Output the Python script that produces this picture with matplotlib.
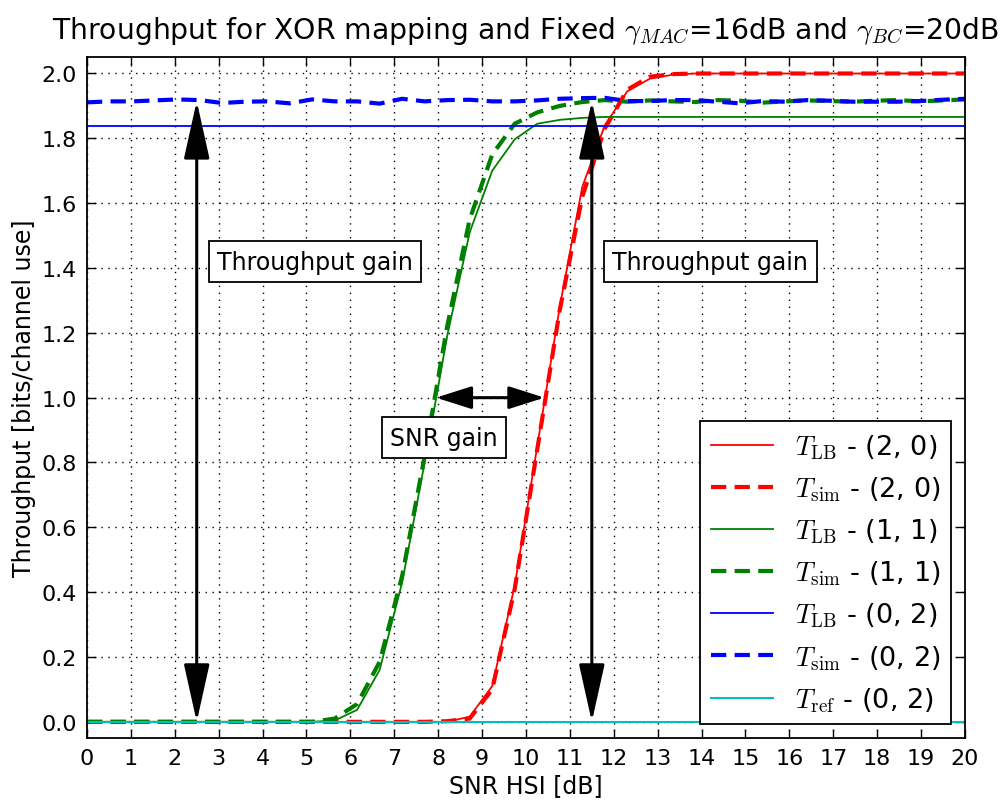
import numpy as np
import matplotlib
matplotlib.use('Agg')
import matplotlib.pyplot as plt

plt.rcParams['font.family'] = 'DejaVu Sans'
plt.rcParams['mathtext.fontset'] = 'cm'
plt.rcParams['lines.scale_dashes'] = False

# SNR grid of the simulation (40 points over 0..20 dB)
snr = np.linspace(0, 20, 40)

lb_20 = [0, 0, 0, 0, 0, 0, 0, 0, 0, 0, 0, 0, 0, 0, 0, 0, 0,
         0.016, 0.11, 0.42, 0.85, 1.28, 1.65, 1.84, 1.945, 1.984, 1.996,
         2.0, 2.0, 2.0, 2.0, 2.0, 2.0, 2.0, 2.0, 2.0, 2.0, 2.0, 2.0, 2.0]
sim_20 = [0, 0, 0, 0, 0, 0, 0, 0, 0, 0, 0, 0, 0, 0, 0, 0, 0.002,
          0.01, 0.10, 0.41, 0.84, 1.27, 1.62, 1.83, 1.95, 1.99, 1.998,
          2.0, 2.0, 2.0, 2.0, 2.0, 2.0, 2.0, 2.0, 2.0, 2.0, 2.0, 2.0, 2.0]
lb_11 = [0, 0, 0, 0, 0, 0, 0, 0, 0, 0, 0,
         0.004, 0.037, 0.16, 0.43, 0.80, 1.19, 1.51, 1.70, 1.797, 1.845, 1.857, 1.863,
         1.866, 1.866, 1.866, 1.866, 1.866, 1.866, 1.866, 1.866, 1.866, 1.866,
         1.866, 1.866, 1.866, 1.866, 1.866, 1.866, 1.866]
sim_11 = [0, 0, 0, 0, 0, 0, 0, 0, 0, 0, 0,
          0.01, 0.055, 0.185, 0.45, 0.82, 1.22, 1.55, 1.75, 1.845, 1.88, 1.90, 1.912,
          1.918, 1.913, 1.917, 1.914, 1.912, 1.918, 1.916, 1.910, 1.914, 1.917,
          1.915, 1.913, 1.916, 1.918, 1.914, 1.917, 1.920]
lb_02 = [1.839] * 40
sim_02 = [1.911, 1.914, 1.914, 1.917, 1.920, 1.918, 1.909, 1.913, 1.914, 1.908,
          1.920, 1.914, 1.914, 1.907, 1.922, 1.914, 1.918, 1.919, 1.914, 1.914,
          1.917, 1.922, 1.924, 1.925, 1.915, 1.915, 1.918, 1.918, 1.913, 1.908,
          1.915, 1.913, 1.918, 1.916, 1.913, 1.913, 1.913, 1.915, 1.919, 1.922]
ref_02 = [0.0] * 40

dash = (11, 6)

fig = plt.figure(figsize=(10.03, 8.04), dpi=100)
ax = fig.add_axes([0.0867, 0.0808, 0.8754, 0.8467])

ax.plot(snr, lb_20, color='r', lw=1.3, label=r'$T_{\mathrm{LB}}$ - (2, 0)')
ax.plot(snr, sim_20, color='r', lw=3, dashes=dash, label=r'$T_{\mathrm{sim}}$ - (2, 0)')
ax.plot(snr, lb_11, color='g', lw=1.3, label=r'$T_{\mathrm{LB}}$ - (1, 1)')
ax.plot(snr, sim_11, color='g', lw=3, dashes=dash, label=r'$T_{\mathrm{sim}}$ - (1, 1)')
ax.plot(snr, lb_02, color='b', lw=1.3, label=r'$T_{\mathrm{LB}}$ - (0, 2)')
ax.plot(snr, sim_02, color='b', lw=3, dashes=dash, label=r'$T_{\mathrm{sim}}$ - (0, 2)')
ax.plot(snr, ref_02, color='c', lw=1.5, label=r'$T_{\mathrm{ref}}$ - (0, 2)')

# gain arrows
vstyle = '<|-|>,head_length=36,head_width=8'
for xa in (2.5, 11.5):
    ax.annotate('', xy=(xa, 1.915), xytext=(xa, 0.0),
                arrowprops=dict(arrowstyle=vstyle, mutation_scale=1, color='k',
                                lw=2.2, shrinkA=0, shrinkB=0))
ax.annotate('', xy=(10.42, 1.0), xytext=(7.95, 1.0),
            arrowprops=dict(arrowstyle='<|-|>,head_length=22,head_width=7',
                            mutation_scale=1, color='k', lw=2.2, shrinkA=0, shrinkB=0))

box = dict(boxstyle='square,pad=0.35', facecolor='white', edgecolor='k', lw=1.3)
ax.text(5.2, 1.42, 'Throughput gain', fontsize=17, ha='center', va='center', bbox=box)
ax.text(14.2, 1.42, 'Throughput gain', fontsize=17, ha='center', va='center', bbox=box)
ax.text(8.13, 0.877, 'SNR gain', fontsize=17, ha='center', va='center', bbox=box)

ax.set_xlim(0, 20)
ax.set_ylim(-0.05, 2.05)
ax.set_xticks(np.arange(0, 21, 1))
ax.set_yticks(np.arange(0, 2.01, 0.2))
ax.tick_params(direction='in', top=True, right=True, length=6.5, width=1,
               labelsize=16, pad=7)
for s in ax.spines.values():
    s.set_linewidth(1.3)
ax.grid(True, color='k', lw=1, dashes=(1, 4))

ax.set_title(r'Throughput for XOR mapping and Fixed $\gamma_{MAC}$=16dB and $\gamma_{BC}$=20dB',
             fontsize=20.3, pad=14)
ax.set_xlabel('SNR HSI [dB]', fontsize=17)
ax.set_ylabel('Throughput [bits/channel use]', fontsize=17)

leg = ax.legend(loc='lower right', fontsize=19.5, handlelength=2.3, fancybox=False,
                edgecolor='k', framealpha=1, borderaxespad=0.5)
leg.get_frame().set_linewidth(1.3)

plt.savefig('out.png', dpi=100)
